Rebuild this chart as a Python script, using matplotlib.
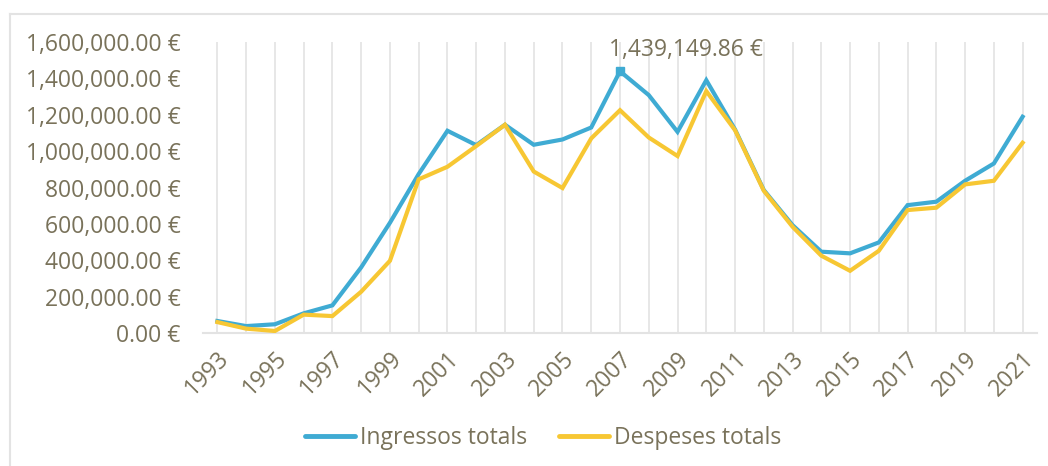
import matplotlib.pyplot as plt
from matplotlib.lines import Line2D
from matplotlib.ticker import FuncFormatter

years = list(range(1993, 2022))
ingressos = [66000, 38000, 48000, 108000, 152000, 361000, 606000, 874000, 1112000,
             1033000, 1145000, 1035000, 1064000, 1130000, 1439149.86, 1308000, 1106000,
             1390000, 1119000, 786000, 593000, 447000, 438000, 498000, 703000, 722000,
             837000, 932000, 1189000]
despeses = [60000, 24000, 11000, 101000, 93000, 227000, 397000, 845000, 914000,
            1028000, 1145000, 888000, 797000, 1070000, 1225000, 1075000, 973000,
            1330000, 1115000, 782000, 584000, 425000, 342000, 452000, 676000, 689000,
            817000, 837000, 1046000]
peak_year = 2007
peak_value = 1439149.86

blue = "#3fabd3"
yellow = "#f7c733"
txt = "#79725a"
grid = "#e3e3e3"
fs = 16.5

plt.rcParams['font.family'] = ['Open Sans', 'DejaVu Sans']

fig = plt.figure(figsize=(10.48, 4.66), dpi=100)
ax = fig.add_axes([203 / 1048, 1 - 333 / 466, (1037 - 203) / 1048, (333 - 42) / 466])

ax.plot(years, ingressos, color=blue, lw=3, solid_joinstyle='miter', zorder=3)
ax.plot(years, despeses, color=yellow, lw=3, solid_joinstyle='miter', zorder=3)
ax.plot([peak_year], [peak_value], marker='s', ms=6, color=blue, zorder=4)
ax.annotate(f"{peak_value:,.2f} €", (peak_year, peak_value), xytext=(-8, 7),
            textcoords='offset points', ha='left', va='bottom', fontsize=fs, color=txt)

ax.set_xlim(1992.5, 2021.5)
ax.set_ylim(0, 1600000)
ax.set_yticks(range(0, 1600001, 200000))
ax.yaxis.set_major_formatter(FuncFormatter(lambda v, p: f"{v:,.2f} €"))
ax.set_xticks(years)
ax.set_xticklabels([str(y) if (y - 1993) % 2 == 0 else "" for y in years],
                   rotation=45, ha='right', rotation_mode='anchor')
ax.grid(axis='x', color=grid, lw=1.2)
ax.set_axisbelow(True)
for s in ['top', 'right', 'left']:
    ax.spines[s].set_visible(False)
ax.spines['bottom'].set_color(grid)
ax.spines['bottom'].set_linewidth(1.5)
ax.tick_params(axis='both', length=0, colors=txt, labelsize=fs)
ax.tick_params(axis='y', pad=16)
ax.tick_params(axis='x', pad=10)

handles = [Line2D([], [], color=blue, lw=3.5, solid_capstyle='round'),
           Line2D([], [], color=yellow, lw=3.5, solid_capstyle='round')]
fig.legend(handles, ["Ingressos totals", "Despeses totals"], loc='center',
           bbox_to_anchor=(0.518, 1 - 438 / 466), ncol=2, frameon=False,
           fontsize=fs, labelcolor=txt, handlelength=2.2, handletextpad=0.2,
           columnspacing=1.4)

# outer chart frame
fig.add_artist(Line2D([9.5 / 1048, 9.5 / 1048], [0, 1 - 14 / 466], color=grid, lw=1.5))
fig.add_artist(Line2D([9.5 / 1048, 1], [1 - 14 / 466, 1 - 14 / 466], color=grid, lw=1.5))

fig.savefig("out.png", dpi=100)
